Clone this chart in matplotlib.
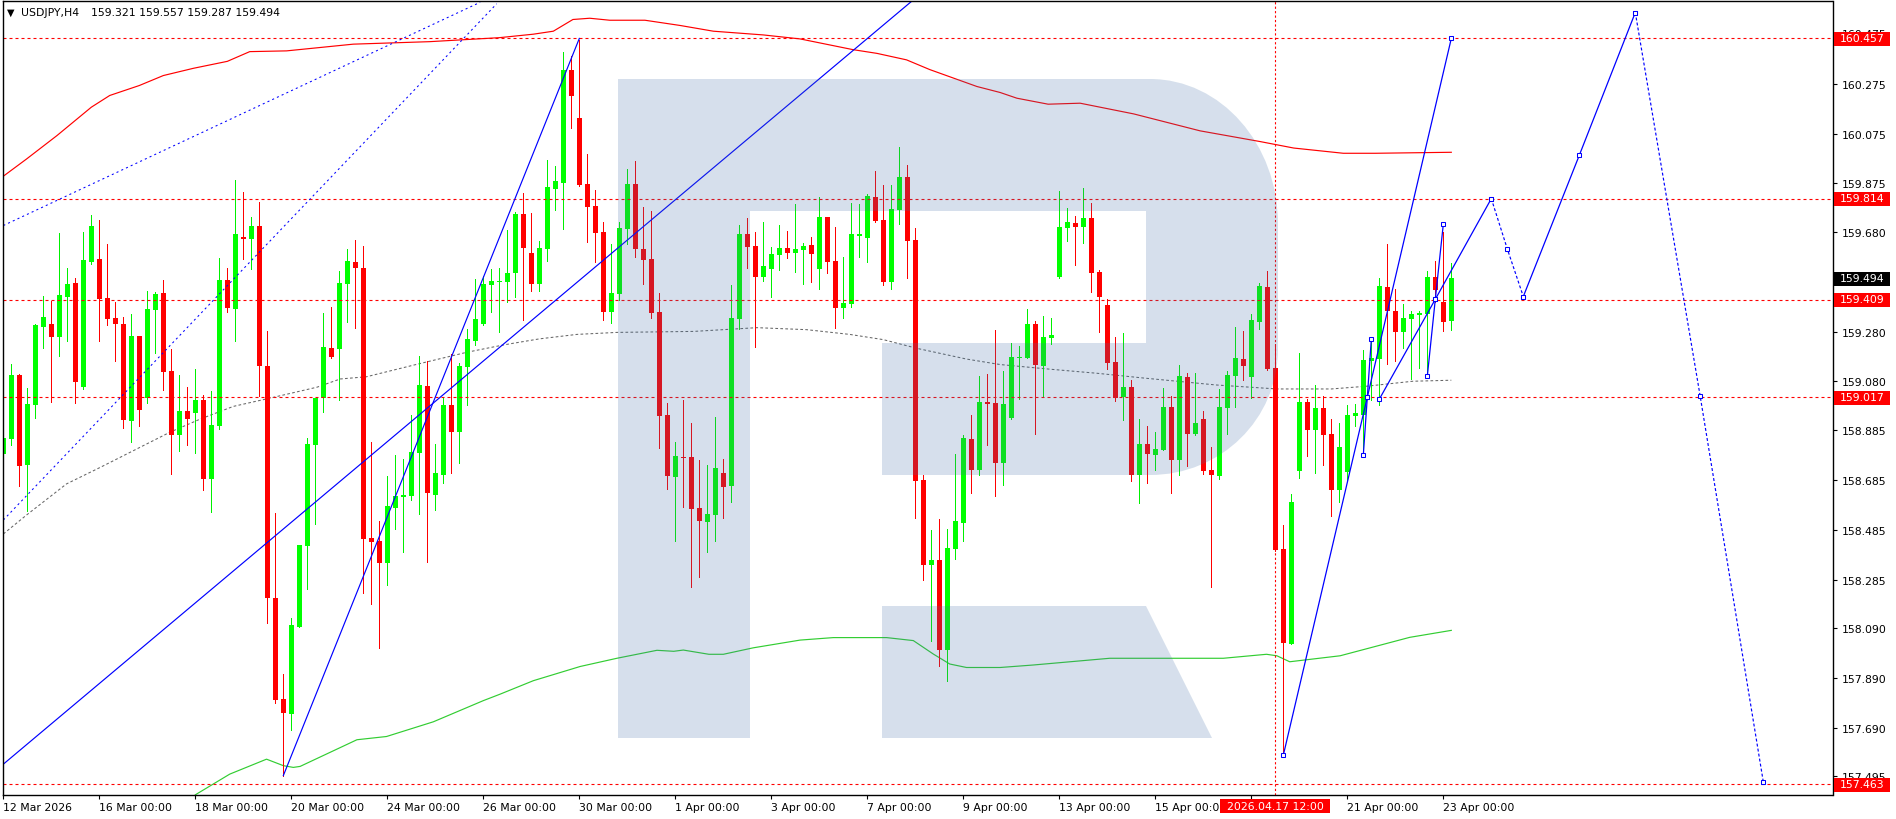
import numpy as np
import matplotlib
matplotlib.use("Agg")
import matplotlib.pyplot as plt
from matplotlib.path import Path
from matplotlib.patches import PathPatch, Rectangle
from matplotlib.transforms import Affine2D

# H4 candles, one entry per bar
opens = [158.789, 158.849, 159.106, 158.746, 158.986, 159.299, 159.311, 159.259, 159.419, 159.475,
         159.058, 159.560, 159.572, 159.415, 159.335, 159.311, 158.921, 159.263, 159.014, 159.367,
         159.435, 159.122, 158.865, 158.962, 158.953, 159.006, 158.689, 158.901, 159.487, 159.371,
         159.660, 159.652, 159.704, 159.142, 158.211, 157.805, 157.745, 158.094, 158.420, 158.825,
         159.014, 159.214, 159.210, 159.471, 159.560, 159.536, 158.452, 158.440, 158.351, 158.572,
         158.616, 158.620, 158.793, 159.062, 158.624, 158.705, 158.986, 158.877, 159.138, 159.243,
         159.311, 159.467, 159.478, 159.480, 159.516, 159.752, 159.596, 159.471, 159.612, 159.853,
         159.877, 160.331, 160.138, 159.873, 159.785, 159.680, 159.359, 159.431, 159.692, 159.873,
         159.612, 159.572, 159.359, 158.945, 158.697, 158.776, 158.777, 158.572, 158.516, 158.544,
         158.713, 158.660, 159.331, 159.672, 159.624, 159.499, 159.532, 159.588, 159.616, 159.596,
         159.608, 159.628, 159.532, 159.740, 159.564, 159.375, 159.391, 159.664, 159.656, 159.820,
         159.728, 159.479, 159.768, 159.901, 159.648, 158.685, 158.343, 158.363, 158.002, 158.408,
         158.512, 158.849, 158.725, 158.998, 158.994, 158.753, 158.934, 159.174, 159.174, 159.311,
         159.142, 159.255, 159.499, 159.696, 159.716, 159.700, 159.736, 159.519, 159.387, 159.158,
         159.018, 159.058, 158.705, 158.829, 158.785, 158.805, 158.978, 158.765, 159.098, 158.869,
         158.929, 158.725, 158.701, 158.974, 159.102, 159.170, 159.098, 159.319, 159.459, 159.134,
         158.408, 158.026, 158.721, 158.998, 158.885, 158.974, 158.869, 158.644, 158.717, 158.942,
         158.945, 159.162, 159.170, 159.459, 159.363, 159.279, 159.331, 159.347, 159.351, 159.499,
         159.399, 159.321]
highs = [159.227, 159.150, 159.110, 159.054, 159.311, 159.425, 159.404, 159.676, 159.536, 159.494,
         159.680, 159.748, 159.728, 159.632, 159.400, 159.339, 159.351, 159.263, 159.443, 159.438,
         159.487, 159.210, 159.106, 159.058, 159.130, 159.026, 159.042, 159.576, 159.536, 159.889,
         159.840, 159.740, 159.800, 159.283, 158.552, 157.906, 158.131, 158.424, 158.853, 159.014,
         159.355, 159.379, 159.524, 159.612, 159.648, 159.624, 158.837, 158.520, 158.701, 158.785,
         158.769, 158.945, 159.182, 159.162, 158.829, 159.014, 159.190, 159.154, 159.291, 159.491,
         159.505, 159.532, 159.536, 159.688, 159.760, 159.836, 159.756, 159.644, 159.969, 159.945,
         160.403, 160.387, 160.451, 159.993, 159.849, 159.720, 159.632, 159.720, 159.933, 159.965,
         159.780, 159.764, 159.435, 158.994, 158.837, 159.006, 158.913, 158.765, 158.745, 158.937,
         158.769, 159.467, 159.708, 159.736, 159.680, 159.720, 159.620, 159.708, 159.684, 159.792,
         159.636, 159.660, 159.820, 159.740, 159.700, 159.580, 159.796, 159.792, 159.833, 159.925,
         159.869, 159.869, 160.021, 159.949, 159.696, 158.705, 158.484, 158.528, 158.488, 158.789,
         158.865, 158.945, 159.102, 159.110, 159.287, 159.122, 159.235, 159.223, 159.371, 159.323,
         159.343, 159.335, 159.845, 159.776, 159.744, 159.857, 159.796, 159.527, 159.411, 159.259,
         159.275, 159.086, 158.929, 158.901, 158.877, 159.054, 159.022, 159.146, 159.114, 159.114,
         158.960, 158.817, 159.050, 159.122, 159.299, 159.283, 159.351, 159.475, 159.524, 159.231,
         158.504, 158.628, 159.194, 159.010, 159.066, 159.022, 158.929, 158.913, 158.986, 158.990,
         159.207, 159.251, 159.495, 159.632, 159.451, 159.391, 159.363, 159.363, 159.524, 159.564,
         159.680, 159.557]
lows = [158.776, 158.825, 158.662, 158.561, 158.932, 159.214, 158.999, 159.184, 159.244, 158.994,
        159.050, 159.552, 159.243, 159.307, 159.162, 158.893, 158.837, 158.901, 158.994, 159.194,
        159.046, 158.709, 158.801, 158.825, 158.793, 158.644, 158.556, 158.889, 159.359, 159.243,
        159.572, 159.532, 159.022, 158.110, 157.789, 157.498, 157.681, 158.094, 158.247, 158.508,
        158.959, 159.174, 159.006, 159.319, 159.295, 158.231, 158.187, 158.010, 158.263, 158.488,
        158.395, 158.604, 158.548, 158.355, 158.564, 158.672, 158.713, 158.753, 158.986, 159.227,
        159.307, 159.359, 159.277, 159.399, 159.419, 159.327, 159.443, 159.443, 159.564, 159.768,
        159.692, 160.098, 159.865, 159.640, 159.560, 159.327, 159.315, 159.407, 159.632, 159.580,
        159.471, 159.335, 158.813, 158.648, 158.440, 158.576, 158.255, 158.295, 158.395, 158.440,
        158.532, 158.596, 159.291, 159.536, 159.218, 159.483, 159.419, 159.528, 159.576, 159.520,
        159.471, 159.479, 159.451, 159.516, 159.295, 159.335, 159.379, 159.580, 159.560, 159.720,
        159.467, 159.451, 159.712, 159.495, 158.532, 158.283, 158.038, 157.938, 157.878, 158.368,
        158.440, 158.632, 158.705, 158.825, 158.620, 158.664, 158.929, 159.010, 159.174, 158.869,
        159.022, 159.231, 159.495, 159.644, 159.548, 159.636, 159.439, 159.279, 159.130, 159.002,
        158.925, 158.681, 158.592, 158.672, 158.725, 158.805, 158.632, 158.705, 158.741, 158.865,
        158.709, 158.255, 158.689, 158.869, 158.978, 159.086, 159.014, 159.291, 159.126, 158.400,
        157.585, 158.026, 158.693, 158.781, 158.713, 158.745, 158.540, 158.596, 158.685, 158.901,
        158.809, 159.006, 158.986, 159.150, 159.162, 159.214, 159.090, 159.134, 159.110, 159.399,
        159.283, 159.287]
closes = [158.852, 159.106, 158.742, 158.990, 159.307, 159.339, 159.259, 159.427, 159.471, 159.078,
          159.568, 159.704, 159.410, 159.331, 159.311, 158.925, 159.263, 158.966, 159.371, 159.431,
          159.118, 158.865, 158.962, 158.929, 159.006, 158.689, 158.905, 159.487, 159.375, 159.672,
          159.652, 159.704, 159.142, 158.211, 157.801, 157.749, 158.102, 158.424, 158.829, 159.014,
          159.218, 159.178, 159.475, 159.564, 159.536, 158.448, 158.436, 158.351, 158.580, 158.620,
          158.624, 158.797, 159.066, 158.632, 158.713, 158.986, 158.877, 159.142, 159.251, 159.331,
          159.471, 159.484, 159.482, 159.516, 159.752, 159.616, 159.471, 159.616, 159.861, 159.885,
          160.331, 160.226, 159.869, 159.780, 159.676, 159.359, 159.435, 159.696, 159.873, 159.612,
          159.568, 159.355, 158.942, 158.701, 158.781, 158.773, 158.568, 158.520, 158.548, 158.733,
          158.656, 159.335, 159.672, 159.620, 159.499, 159.544, 159.592, 159.616, 159.596, 159.612,
          159.624, 159.592, 159.740, 159.560, 159.375, 159.395, 159.672, 159.672, 159.825, 159.724,
          159.479, 159.773, 159.901, 159.644, 158.681, 158.343, 158.363, 158.002, 158.412, 158.520,
          158.853, 158.725, 158.998, 158.990, 158.753, 158.990, 159.178, 159.178, 159.311, 159.146,
          159.259, 159.267, 159.700, 159.720, 159.700, 159.736, 159.516, 159.419, 159.154, 159.014,
          159.058, 158.705, 158.829, 158.789, 158.809, 158.978, 158.765, 159.102, 158.869, 158.913,
          158.721, 158.705, 158.978, 159.106, 159.174, 159.142, 159.327, 159.463, 159.130, 158.404,
          158.030, 158.596, 158.998, 158.885, 158.974, 158.865, 158.644, 158.817, 158.945, 158.953,
          159.166, 159.174, 159.463, 159.363, 159.279, 159.335, 159.351, 159.355, 159.499, 159.447,
          159.319, 159.494]

# moving averages, read at the bends
ma_red_x = [0, 2.9, 6.7, 11, 13.3, 17, 20, 23.75, 28, 30.8, 35.4, 43.75, 53.3, 62, 66.25, 68.75, 71.2, 73.3,
            75.8, 80.2, 84.6, 88.75, 95, 99.6, 106.2, 109.2, 112.9, 115.8, 121.7, 124.6, 126.7, 130.6,
            134.6, 141.3, 149.6, 157.1, 161.3, 167.5, 171.5, 181]
ma_red_y = [159.904, 159.973, 160.067, 160.181, 160.228, 160.268, 160.308, 160.337, 160.365, 160.404,
            160.407, 160.434, 160.444, 160.460, 160.474, 160.486, 160.533, 160.538, 160.530, 160.530,
            160.509, 160.486, 160.471, 160.455, 160.412, 160.397, 160.371, 160.332, 160.264, 160.240,
            160.217, 160.193, 160.197, 160.154, 160.086, 160.043, 160.017, 159.996, 159.996, 160.000]
ma_gray_x = [0, 2.9, 7.9, 12.1, 17.1, 20.8, 24.6, 28.75, 32.9, 39.2, 42.1, 45.4, 51.7, 57.9, 62.1, 63.3, 67,
             71.7, 76.7, 86.3, 94.2, 100.4, 105.8, 110, 114.2, 120.4, 124.6, 130.6, 136.7, 142.5, 151.6,
             159.2, 166, 170.4, 176.2, 181]
ma_gray_y = [158.468, 158.544, 158.669, 158.735, 158.816, 158.876, 158.929, 158.980, 159.010, 159.057,
             159.090, 159.099, 159.149, 159.197, 159.224, 159.231, 159.251, 159.269, 159.277, 159.281,
             159.296, 159.288, 159.269, 159.248, 159.213, 159.170, 159.148, 159.130, 159.113, 159.094,
             159.066, 159.050, 159.050, 159.061, 159.081, 159.085]
ma_green_x = [24, 28.3, 32.9, 35, 36.25, 37.1, 44.2, 47.9, 53.75, 60, 62.1, 66.25, 72.1, 76.7, 81.7, 83.8, 85,
              88.2, 90, 93.75, 99.6, 103.75, 110.4, 113.75, 116.25, 118.3, 120.4, 124.6, 128.75, 138.3,
              146.3, 152.5, 157.9, 159.2, 160.8, 162.9, 167.1, 175.8, 181]
ma_green_y = [157.421, 157.504, 157.564, 157.538, 157.531, 157.535, 157.642, 157.655, 157.714, 157.799,
              157.825, 157.879, 157.936, 157.969, 158.001, 157.997, 158.002, 157.985, 157.985, 158.011,
              158.042, 158.052, 158.052, 158.040, 157.986, 157.946, 157.932, 157.932, 157.942, 157.969,
              157.969, 157.969, 157.985, 157.979, 157.955, 157.963, 157.979, 158.053, 158.081]

# trend lines and forecast legs, (bars, prices)
trend_long = ([0, 113.5], [157.544, 160.605])
trend_mar = ([35, 72], [157.498, 160.457])
dash_upper = ([0, 59.6], [159.706, 160.602])
dash_lower = ([0, 61.67], [158.524, 160.596])
leg_main = ([160, 170.5, 181], [157.580, 159.017, 160.457])
leg_a = ([170, 170.5, 171], [158.784, 159.017, 159.249])
leg_b = ([172, 179, 186], [159.009, 159.410, 159.814])
leg_c = ([178, 179, 180], [159.101, 159.410, 159.711])
leg_up = ([190, 197, 204], [159.421, 159.988, 160.561])
fc_dip = ([186, 188, 190], [159.814, 159.612, 159.421])
fc_drop = ([204, 212.1, 220], [160.561, 159.023, 157.473])

levels = [160.457, 159.814, 159.409, 159.017, 157.463]
last_price = 159.494
marked_bar = 159

ytick_vals = [160.478, 160.275, 160.075, 159.875, 159.680, 159.482, 159.280, 159.080,
              158.885, 158.685, 158.485, 158.285, 158.090, 157.890, 157.690, 157.495]
ytick_labels = ["160.475", "160.275", "160.075", "159.875", "159.680", "159.480", "159.280", "159.080",
                "158.885", "158.685", "158.485", "158.285", "158.090", "157.890", "157.690", "157.495"]
xtick_labels = ["12 Mar 2026", "16 Mar 00:00", "18 Mar 00:00", "20 Mar 00:00", "24 Mar 00:00", "26 Mar 00:00",
                "30 Mar 00:00", "1 Apr 00:00", "3 Apr 00:00", "7 Apr 00:00", "9 Apr 00:00", "13 Apr 00:00",
                "15 Apr 00:00", "", "21 Apr 00:00", "23 Apr 00:00"]

W, H = 1896, 820
FONT = 7.85
plt.rcParams['font.family'] = 'DejaVu Sans'

fig = plt.figure(figsize=(W / 100, H / 100), dpi=100, facecolor='white')
ax = fig.add_axes([2.7 / W, 1 - 796.3 / H, (1832.5 - 2.7) / W, (796.3 - 2.3) / H])
ax.set_xlim(-0.08, 228.65)
ax.set_ylim(157.419, 160.606)

# pixel space from the top left, only for the logo and the side boxes
px = Affine2D().scale(1 / W, -1 / H).translate(0, 1) + fig.transFigure

bars = np.arange(len(opens))
o, h, l, c = map(np.array, (opens, highs, lows, closes))
up = c >= o
ax.vlines(bars[up], l[up], h[up], color='#00f000', lw=0.72, zorder=3, antialiased=False)
ax.vlines(bars[~up], l[~up], h[~up], color='#ff0000', lw=0.72, zorder=3, antialiased=False)
ax.bar(bars[up], (c - o)[up], bottom=o[up], width=0.6, color='#00ff00', linewidth=0, zorder=4, antialiased=False)
ax.bar(bars[~up], (o - c)[~up], bottom=c[~up], width=0.6, color='#ff0000', linewidth=0, zorder=4, antialiased=False)

ax.plot(ma_red_x, ma_red_y, color='#ff0000', lw=0.85, zorder=2.6)
ax.plot(ma_gray_x, ma_gray_y, color='#666666', lw=0.75, ls=(0, (2.6, 2.2)), zorder=2.6)
ax.plot(ma_green_x, ma_green_y, color='#32cd32', lw=0.85, zorder=2.6)

for v in levels:
    ax.axhline(v, color='#ff0000', lw=0.8, ls=(0, (2.7, 2.7)), zorder=5)
ax.axvline(marked_bar, color='#ff0000', lw=0.8, ls=(0, (2, 2)), zorder=5)

blue = '#0000ff'
for seg in (trend_long, trend_mar):
    ax.plot(seg[0], seg[1], color=blue, lw=0.85, zorder=6)
for seg in (dash_upper, dash_lower):
    ax.plot(seg[0], seg[1], color=blue, lw=0.75, ls=(0, (2, 3)), zorder=6)
for seg in (leg_main, leg_a, leg_b, leg_c, leg_up):
    ax.plot(seg[0], seg[1], color=blue, lw=0.9, marker='s', ms=3.4, mfc='white', mew=0.75, zorder=6)
for seg in (fc_dip, fc_drop):
    ax.plot(seg[0], seg[1], color=blue, lw=0.85, ls=(0, (2.5, 1.8)), marker='s', ms=3.4, mfc='white', mew=0.75, zorder=6)

# broker logo laid over the candles
verts = [(618, 80), (1150, 80), (1221, 80), (1278, 145), (1278, 225), (1278, 350), (1278, 420), (1221, 476),
         (1150, 476), (882, 476), (882, 344), (1146, 344), (1146, 212), (750, 212), (750, 739), (618, 739), (618, 80)]
codes = [Path.MOVETO, Path.LINETO, Path.CURVE4, Path.CURVE4, Path.CURVE4, Path.LINETO, Path.CURVE4, Path.CURVE4,
         Path.CURVE4, Path.LINETO, Path.LINETO, Path.LINETO, Path.LINETO, Path.LINETO, Path.LINETO, Path.LINETO,
         Path.CLOSEPOLY]
ax.add_patch(PathPatch(Path(verts, codes), transform=px, facecolor='#416fa7', alpha=0.216, lw=0, zorder=7))
leg = [(882, 607), (1146, 607), (1212, 739), (882, 739), (882, 607)]
ax.add_patch(PathPatch(Path(leg, closed=True), transform=px, facecolor='#416fa7', alpha=0.216, lw=0, zorder=7))

for s in ('left', 'right', 'top', 'bottom'):
    ax.spines[s].set_linewidth(1.0)
    ax.spines[s].set_color('black')
    ax.spines[s].set_zorder(8)
ax.yaxis.tick_right()
ax.set_yticks(ytick_vals, ytick_labels)
ax.set_xticks(np.arange(len(xtick_labels)) * 12, xtick_labels, ha='left')
ax.tick_params(axis='y', length=3, width=0.8, pad=3.6, labelsize=FONT, colors='black')
ax.tick_params(axis='x', length=3, width=0.8, pad=1.8, labelsize=FONT, colors='black')


def price_tag(value, face):
    # tag right of the axis, centred on its level
    ypx = H - ax.transData.transform((0, value))[1]
    ax.add_patch(Rectangle((1834, ypx - 6.5), 56, 14, facecolor=face, lw=0, clip_on=False, zorder=10, transform=px))
    ax.annotate(f"{value:.3f}", xy=(1, value), xycoords=('axes fraction', 'data'), xytext=(6.8, 0.2),
                textcoords='offset pixels', color='white', fontsize=FONT, va='center', ha='left',
                zorder=11, annotation_clip=False)


for v in levels:
    price_tag(v, '#ff0000')
price_tag(last_price, 'black')

# date tag under the marked bar
ax.add_patch(Rectangle((1220, 800), 110, 14, facecolor='#ff0000', lw=0, clip_on=False, zorder=10, transform=px))
ax.text(1275, 807.5, "2026.04.17 12:00", transform=px, color='white', fontsize=FONT, ha='center', va='center',
        zorder=11, clip_on=False)

ax.text(21, 12.5, "USDJPY,H4", transform=px, color='black', fontsize=FONT, ha='left', va='center', zorder=11)
ax.text(91.5, 12.5, "159.321 159.557 159.287 159.494", transform=px, color='black', fontsize=FONT,
        ha='left', va='center', zorder=11)
ax.text(11, 12.5, "▼", transform=px, color='black', fontsize=7, ha='center', va='center', zorder=11)

fig.savefig('out.png', dpi=100, facecolor='white')
